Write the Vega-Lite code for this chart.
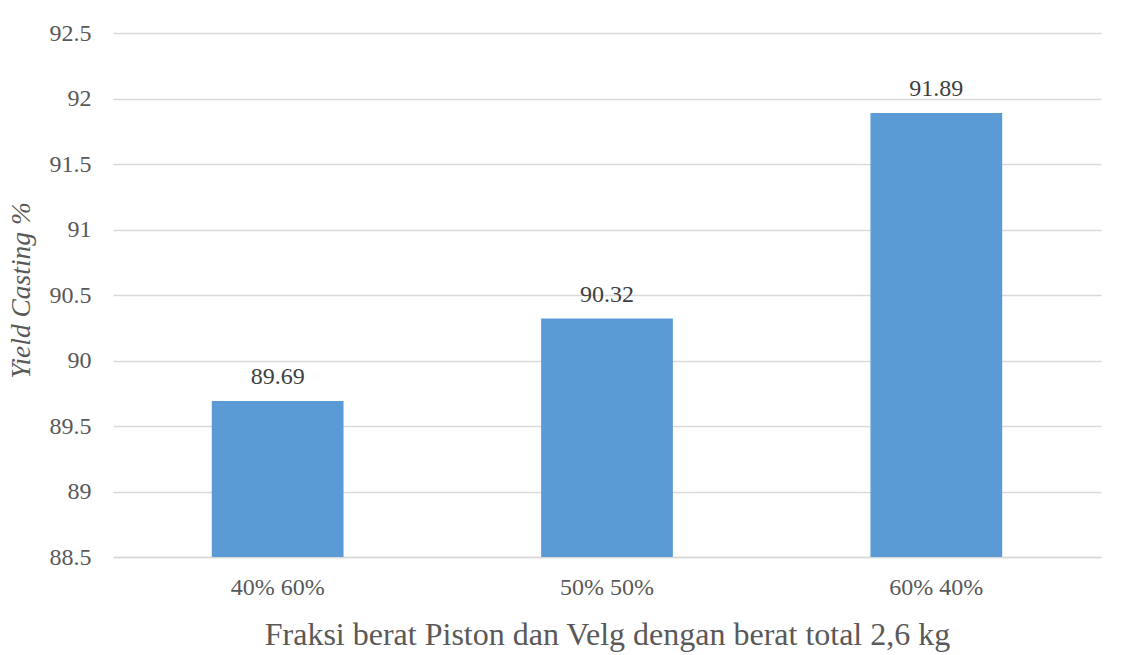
{
  "$schema": "https://vega.github.io/schema/vega-lite/v6.json",
  "autosize": "none",
  "width": 988,
  "height": 524,
  "padding": {"left": 113, "top": 33, "right": 25, "bottom": 98},
  "background": "white",
  "config": {
    "view": {"stroke": null},
    "font": "Liberation Serif"
  },
  "data": {
    "values": [
      {"fraksi": "40% 60%", "yield": 89.69},
      {"fraksi": "50% 50%", "yield": 90.32},
      {"fraksi": "60% 40%", "yield": 91.89}
    ]
  },
  "encoding": {
    "x": {
      "field": "fraksi",
      "type": "nominal",
      "sort": null,
      "scale": {"paddingInner": 0.6, "paddingOuter": 0.3},
      "axis": {
        "title": "Fraksi berat Piston dan Velg dengan berat total 2,6 kg",
        "titleFont": "Liberation Serif",
        "titleFontSize": 32,
        "titleFontWeight": "normal",
        "titleColor": "#595959",
        "titlePadding": 20,
        "labelAngle": 0,
        "labelFont": "Liberation Serif",
        "labelFontSize": 24,
        "labelColor": "#595959",
        "labelPadding": 18,
        "ticks": false,
        "domainColor": "#d9d9d9",
        "domainWidth": 1.5
      }
    },
    "y": {
      "field": "yield",
      "type": "quantitative",
      "scale": {"domain": [88.5, 92.5], "zero": false, "nice": false},
      "axis": {
        "title": "Yield Casting %",
        "titleFont": "Liberation Serif",
        "titleFontSize": 27.5,
        "titleFontStyle": "italic",
        "titleFontWeight": "normal",
        "titleColor": "#595959",
        "titlePadding": 14,
        "titleY": 257,
        "values": [88.5, 89, 89.5, 90, 90.5, 91, 91.5, 92, 92.5],
        "format": ".1~f",
        "labelFont": "Liberation Serif",
        "labelFontSize": 24,
        "labelColor": "#595959",
        "labelPadding": 22,
        "ticks": false,
        "domain": false,
        "gridColor": "#d9d9d9",
        "gridWidth": 1.5
      }
    }
  },
  "layer": [
    {"mark": {"type": "bar", "color": "#5B9BD5", "clip": true}},
    {
      "mark": {
        "type": "text",
        "baseline": "alphabetic",
        "dy": -17,
        "font": "Liberation Serif",
        "fontSize": 24,
        "color": "#404040"
      },
      "encoding": {"text": {"field": "yield", "type": "quantitative", "format": ".2f"}}
    }
  ]
}
